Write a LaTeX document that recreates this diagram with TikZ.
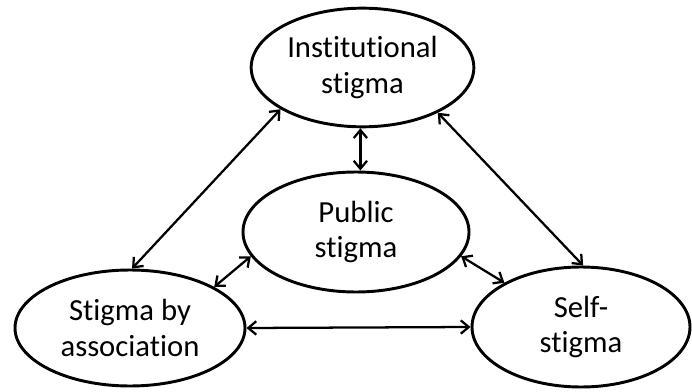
\documentclass[tikz,border=0pt]{standalone}
\usepackage{fontspec}
\setmainfont{Carlito}[Ligatures=NoCommon]
\usepackage{tikz}
\usetikzlibrary{arrows.meta,positioning,shapes}

\begin{document}
\begin{tikzpicture}[
  x=0.75pt, y=-0.75pt,
  stigmabox/.style={ellipse, draw=black, fill=white,
    line width=2.2pt, inner sep=0pt, align=center,
    font=\fontsize{23}{26.5}\selectfont},
  arrow/.style={{Straight Barb[length=6pt,width=10pt]}-{Straight Barb[length=6pt,width=10pt]},
    line width=1.7pt}
]
\useasboundingbox (0,0) rectangle (692,392);

% Nodes
\node[stigmabox, minimum width=167pt, minimum height=89pt] (inst)
  at (362.5,67.5) {Institutional\\stigma};
\node[stigmabox, minimum width=169.5pt, minimum height=90pt] (public)
  at (356,232) {Public\\stigma};
\node[stigmabox, minimum width=172.5pt, minimum height=87pt] (assoc)
  at (130,328) {Stigma by\\association};
\node[stigmabox, minimum width=163.5pt, minimum height=90pt] (self)
  at (581,327) {Self-\\stigma};

% Arrows
\draw[arrow] (inst.268) -- (inst.268 |- public.north);
\draw[arrow] (inst.207) -- (assoc.88);
\draw[arrow] (inst.329.6) -- (self.88);
\draw[arrow] (public.193.9) -- (assoc.26.6);
\draw[arrow] (public.347.8) -- (self.150.9);
\draw[arrow] (assoc.east) -- (self.west);
\end{tikzpicture}
\end{document}
